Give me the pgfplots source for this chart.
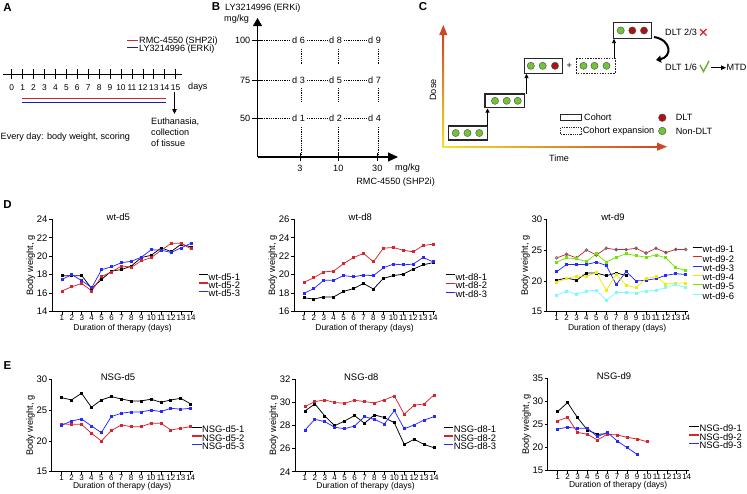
\documentclass[border=0pt]{standalone}
\usepackage{pgfplots}
\pgfplotsset{compat=1.18}
\usepackage{fontspec}
\setmainfont{Liberation Sans}
\usetikzlibrary{arrows.meta}

\definecolor{cred}{RGB}{212,38,48}
\definecolor{cblue}{RGB}{40,40,255}
\definecolor{cyel}{RGB}{238,238,0}
\definecolor{cgreen}{RGB}{110,230,0}
\definecolor{ccyan}{RGB}{125,250,250}
\definecolor{dotgreen}{RGB}{115,195,55}
\definecolor{dotred}{RGB}{170,20,20}
\definecolor{gradyel}{RGB}{245,225,40}
\definecolor{gradred}{RGB}{205,70,40}

\pgfplotsset{
  legend image code/.code={\draw[#1,line width=1.1pt] (0pt,2.5pt) -- (9.5pt,2.5pt);},
  bw/.style={
    scale only axis, width=141pt, height=92.5pt,
    axis lines*=left, axis line style={line width=0.7pt,-},
    tick align=outside, major tick length=3pt,
    tick style={line width=0.7pt,black},
    xmin=0, xmax=14.2, xtick={1,...,14},
    clip=false,
    xlabel={Duration of therapy (days)}, ylabel={Body weight, g},
    xlabel style={anchor=center,inner sep=0pt,font=\fontsize{8.5}{9}\selectfont},
    ylabel style={at={(axis description cs:-0.15,0.5)},anchor=center,inner sep=0pt,font=\fontsize{9.2}{10}\selectfont},
    x tick label style={font=\fontsize{8}{9}\selectfont,inner sep=0.5pt},
    y tick label style={font=\fontsize{9.5}{10}\selectfont,inner sep=1.3pt},
    title style={at={(axis description cs:0.47,0.96)},anchor=center,inner sep=0pt,font=\fontsize{9.5}{10}\selectfont},
    legend style={draw=none,fill=none,font=\fontsize{9.4}{10}\selectfont,
      anchor=north west,inner sep=0pt,row sep=0.3pt,
      nodes={inner sep=0pt,text height=6.5pt,text depth=1.3pt}},
    legend cell align=left,
    every axis plot/.append style={line width=0.75pt,mark size=1pt,mark=square*},
    /pgf/number format/assume math mode=true,
  },
}

\begin{document}
\begin{tikzpicture}
\useasboundingbox (0pt,0pt) rectangle (747pt,-493pt);

\begin{scope}[x=1pt,y=-1pt,font=\fontsize{9.1}{10}\selectfont]
% ---------- panel labels ----------
\node[font=\fontsize{11.5}{12}\selectfont\bfseries] at (7.5,8) {A};
\node[font=\fontsize{11.5}{12}\selectfont\bfseries] at (216,7) {B};
\node[font=\fontsize{11.5}{12}\selectfont\bfseries] at (423,7) {C};
\node[font=\fontsize{11.5}{12}\selectfont\bfseries] at (7.5,205) {D};
\node[font=\fontsize{11.5}{12}\selectfont\bfseries] at (7.5,366) {E};

% ---------- panel A ----------
\draw[cred,line width=1.2pt] (127,40.7) -- (138,40.7);
\draw[cblue!70!black,line width=1.2pt] (127,47.3) -- (138,47.3);
\node[anchor=north west,align=left,inner sep=0pt,
  font={\fontsize{9.1}{8.4}\selectfont\lineskiplimit=-5pt}] at (139,36.4)
  {RMC-4550 (SHP2i)\\LY3214996 (ERKi)};
\draw[line width=0.7pt] (3,74) -- (182,74);
\foreach \d in {0,...,15} {
  \draw[line width=0.7pt] ({11.7+10.93*\d},69) -- ({11.7+10.93*\d},79);
  \node[font=\fontsize{8.4}{9}\selectfont,inner sep=0pt] at ({11.7+10.93*\d},87.3) {\d};
}
\node[anchor=west,inner sep=0pt] at (188,87) {days};
\draw[cred,line width=1.1pt] (21.7,98.3) -- (165.7,98.3);
\draw[cblue!70!black,line width=1.1pt] (21.7,102.7) -- (165.7,102.7);
\draw[line width=0.8pt,-{Triangle[length=5pt,width=4.5pt]}] (174.5,92) -- (174.5,114);
\node[anchor=north west,align=left,inner sep=0pt,font=\fontsize{9.1}{11.3}\selectfont] at (151,117.3) {Euthanasia,\\collection\\of tissue};
\node[anchor=west,inner sep=0pt] at (0.5,136.7) {Every day: body weight, scoring};

% ---------- panel B ----------
\node[anchor=west,inner sep=0pt] at (225,8) {LY3214996 (ERKi)};
\node[anchor=west,inner sep=0pt] at (224,19) {mg/kg};
\draw[line width=1.1pt,-{Triangle[length=8pt,width=9pt]}] (257.5,157) -- (257.5,18);
\draw[line width=1.1pt,-{Triangle[length=10pt,width=9pt]}] (257.5,157) -- (398,157);
\foreach \yy/\lab in {40.7/100,80/75,118.3/50} {
  \draw[line width=0.8pt] (251.5,\yy) -- (262,\yy);
  \node[anchor=east,inner sep=0pt] at (250.5,\yy) {\lab};
}
\foreach \xx/\lab in {300/3,338.3/10,377.3/30} {
  \draw[line width=0.8pt] (\xx,153) -- (\xx,161);
  \node[inner sep=0pt] at (\xx,168.3) {\lab};
}
\node[anchor=west,inner sep=0pt] at (395,168.3) {mg/kg};
\node[anchor=east,inner sep=0pt] at (435,181.7) {RMC-4550 (SHP2i)};
\tikzset{dotl/.style={line width=0.8pt,dash pattern=on 0.8pt off 1pt}}
\foreach \yy/\la/\lb/\lc in {40.7/6/8/9,80/3/5/7,118.3/1/2/4} {
  \draw[dotl] (262,\yy) -- (290,\yy);
  \draw[dotl] (307,\yy) -- (327,\yy);
  \draw[dotl] (344,\yy) -- (366,\yy);
  \node[inner sep=0pt] at (298.5,\yy) {d \la};
  \node[inner sep=0pt] at (335.5,\yy) {d \lb};
  \node[inner sep=0pt] at (374.5,\yy) {d \lc};
}
\foreach \xx in {301.5,338.5,378.3} {
  \draw[dotl] (\xx,49) -- (\xx,64);
  \draw[dotl] (\xx,88) -- (\xx,102);
  \draw[dotl] (\xx,127) -- (\xx,157);
}

% ---------- panel C ----------
\shade[bottom color=gradyel, top color=gradred] (442.6,147.4) rectangle (444.1,33);
\fill[gradred] (443.3,25) -- (439.2,35) -- (447.4,35) -- cycle;
\shade[left color=gradyel, right color=gradred] (442.6,146) rectangle (658,147.5);
\fill[gradred] (667,146.7) -- (657,142.6) -- (657,150.8) -- cycle;
\node[rotate=90,inner sep=0pt] at (433,90) {Dose};
\node[inner sep=0pt] at (559,158.3) {Time};
\tikzset{cbox/.style={draw=black!85,line width=1.3pt},
         gdot/.style={fill=dotgreen,draw=black!70,line width=0.4pt},
         rdot/.style={fill=dotred,draw=black!70,line width=0.4pt}}
% box 1
\draw[cbox] (448.3,126) rectangle (487.7,140);
\foreach \cx in {455.7,467.5,479.3} \filldraw[gdot] (\cx,133) circle[radius=3.6pt];
% box 2
\draw[cbox] (485,94) rectangle (524.3,107.7);
\foreach \cx in {495,506.7,517.7} \filldraw[gdot] (\cx,100.8) circle[radius=3.6pt];
% box 3
\draw[cbox] (524.3,58.3) rectangle (562.3,73.3);
\filldraw[gdot] (530.8,65.8) circle[radius=3.6pt];
\filldraw[gdot] (542.7,65.8) circle[radius=3.6pt];
\filldraw[rdot] (555,65.8) circle[radius=3.6pt];
\node[inner sep=0pt] at (569.3,65.7) {+};
% expansion box
\draw[draw=black!85,line width=0.9pt,dash pattern=on 1.5pt off 1.2pt] (576.7,58.3) rectangle (615,73.3);
\foreach \cx in {583.5,594.5,606.5} \filldraw[gdot] (\cx,65.8) circle[radius=3.6pt];
% box 4
\draw[cbox] (613.3,22.7) rectangle (651.7,38.3);
\filldraw[gdot] (620.7,30.5) circle[radius=3.6pt];
\filldraw[rdot] (632.3,30.5) circle[radius=3.6pt];
\filldraw[rdot] (644,30.5) circle[radius=3.6pt];
% step arrows
\draw[line width=0.6pt,-{Triangle[length=4pt,width=4pt]}] (487.5,126) -- (487.5,108.5);
\draw[line width=0.6pt,-{Triangle[length=4pt,width=4pt]}] (526.5,94) -- (526.5,74);
\draw[line width=0.6pt,-{Triangle[length=4pt,width=4pt]}] (614,58.3) -- (614,39);
% DLT decisions
\node[anchor=west,inner sep=0pt] at (665,32.3) {DLT 2/3};
\draw[cred,line width=1.3pt] (700,29) -- (706.5,35.5) (700,35.5) -- (706.5,29);
\draw[line width=2pt,-{Triangle[length=5pt,width=7pt]}] (654,37) .. controls (672,40) and (672,57) .. (656,60);
\node[anchor=west,inner sep=0pt] at (665,67.7) {DLT 1/6};
\draw[dotgreen!90!black,line width=1.4pt] (700,65) -- (703.5,71.5) -- (709,61);
\draw[line width=0.8pt,-{Triangle[length=5pt,width=4.5pt]}] (711,67.7) -- (726,67.7);
\node[anchor=west,inner sep=0pt] at (726.5,67.7) {MTD};
% legend
\draw[draw=black!85,line width=1pt] (560.7,114.3) rectangle (581.7,120);
\node[anchor=west,inner sep=0pt] at (584,117) {Cohort};
\draw[draw=black!85,line width=0.8pt,dash pattern=on 1.3pt off 1pt] (560.7,127.7) rectangle (581.7,134.3);
\node[anchor=west,inner sep=0pt] at (582.7,131) {Cohort expansion};
\filldraw[rdot] (662.3,117.7) circle[radius=3.8pt];
\node[anchor=west,inner sep=0pt] at (675.7,117.7) {DLT};
\filldraw[gdot] (662.3,131) circle[radius=3.8pt];
\node[anchor=west,inner sep=0pt] at (675.7,131) {Non-DLT};
\end{scope}

% ---------- panel D ----------
\begin{axis}[bw, at={(52pt,-311.7pt)}, anchor=south west,
  ymin=14, ymax=24, ytick={14,16,...,24}, title={wt-d5},
  xlabel style={at={(axis description cs:0.5,-0.18)}},
  legend style={at={(axis description cs:1.035,0.415)}}]
\addplot[black] coordinates {(1,17.9)(2,17.9)(3,17.9)(4,16.5)(5,17.5)(6,18.4)(7,18.55)(8,18.95)(9,19.85)(10,20.1)(11,20.9)(12,20.5)(13,21.3)(14,21.0)};
\addlegendentry{wt-d5-1}
\addplot[cred] coordinates {(1,16.25)(2,16.7)(3,17.05)(4,16.25)(5,17.8)(6,18.3)(7,18.95)(8,18.8)(9,19.5)(10,19.85)(11,20.65)(12,21.4)(13,21.4)(14,20.8)};
\addlegendentry{wt-d5-2}
\addplot[cblue] coordinates {(1,17.5)(2,18.0)(3,17.35)(4,16.6)(5,18.55)(6,18.85)(7,19.3)(8,19.45)(9,19.9)(10,20.7)(11,20.65)(12,20.4)(13,20.9)(14,21.4)};
\addlegendentry{wt-d5-3}
\end{axis}

\begin{axis}[bw, at={(294pt,-311.7pt)}, anchor=south west,
  ymin=16, ymax=26, ytick={16,18,...,26}, title={wt-d8},
  xlabel style={at={(axis description cs:0.5,-0.18)}},
  legend style={at={(axis description cs:1.07,0.415)},row sep=0.8pt}]
\addplot[black] coordinates {(1,17.5)(2,17.37)(3,17.6)(4,17.6)(5,18.2)(6,18.5)(7,19.05)(8,18.45)(9,19.6)(10,19.9)(11,20.06)(12,20.6)(13,21.07)(14,21.3)};
\addlegendentry{wt-d8-1}
\addplot[cred] coordinates {(1,19.17)(2,19.67)(3,20.3)(4,20.4)(5,21.2)(6,21.86)(7,22.3)(8,21.4)(9,22.87)(10,22.94)(11,22.65)(12,22.47)(13,23.16)(14,23.3)};
\addlegendentry{wt-d8-2}
\addplot[cblue] coordinates {(1,17.98)(2,18.5)(3,19.4)(4,19.4)(5,19.9)(6,19.78)(7,19.96)(8,19.9)(9,20.75)(10,21.14)(11,21.07)(12,21.14)(13,21.86)(14,21.4)};
\addlegendentry{wt-d8-3}
\end{axis}

\begin{axis}[bw, at={(546.7pt,-311.7pt)}, anchor=south west,
  ymin=15, ymax=30, ytick={15,20,...,30}, title={wt-d9},
  xlabel style={at={(axis description cs:0.5,-0.18)}},
  legend style={at={(axis description cs:1.03,0.71)},row sep=1.5pt}]
\addplot[black] coordinates {(1,20.1)(2,20.47)(3,20.1)(4,21.27)(5,21.27)(6,20.84)(7,21.27)(8,20.9)};
\addlegendentry{wt-d9-1}
\addplot[cred,mark=o,mark size=1.4pt,mark options={draw=black!60}] coordinates {(1,23.73)(2,24.3)(3,23.73)(4,25.0)(5,24.2)(6,25.29)(7,25.07)(8,25.07)(9,25.29)(10,24.5)(11,25.29)(12,24.6)(13,25.1)(14,25.1)};
\addlegendentry{wt-d9-2}
\addplot[cblue] coordinates {(1,21.48)(2,22.66)(3,22.66)(4,22.66)(5,23.04)(6,22.5)(7,19.4)(8,21.5)(9,19.98)(10,20.1)(11,20.36)(12,20.9)(13,21.16)(14,21.05)};
\addlegendentry{wt-d9-3}
\addplot[cyel] coordinates {(1,19.77)(2,20.36)(3,20.73)(4,20.73)(5,21.3)(6,18.48)(7,21.05)(8,19.3)(9,18.9)(10,20.36)(11,20.73)(12,19.45)(13,19.66)(14,19.66)};
\addlegendentry{wt-d9-4}
\addplot[cgreen] coordinates {(1,23.04)(2,23.73)(3,23.57)(4,23.14)(5,24.38)(6,23.04)(7,23.84)(8,24.38)(9,24.1)(10,23.84)(11,24.2)(12,23.73)(13,22.13)(14,21.7)};
\addlegendentry{wt-d9-5}
\addplot[ccyan] coordinates {(1,17.68)(2,18.37)(3,17.8)(4,18.37)(5,18.48)(6,16.87)(7,18.1)(8,18.1)(9,18.05)(10,18.37)(11,18.48)(12,18.9)(13,19.4)(14,18.9)};
\addlegendentry{wt-d9-6}
\end{axis}

% ---------- panel E ----------
\begin{axis}[bw, at={(51.7pt,-471.7pt)}, anchor=south west,
  ymin=15, ymax=30, ytick={15,20,...,30}, title={NSG-d5},
  xlabel style={at={(axis description cs:0.5,-0.162)}},
  legend style={at={(axis description cs:0.99,0.494)},row sep=0.6pt}]
\addplot[black] coordinates {(1,27.0)(2,26.64)(3,27.73)(4,25.45)(5,26.64)(6,27.18)(7,26.8)(8,26.48)(9,26.48)(10,26.75)(11,26.26)(12,26.64)(13,26.9)(14,25.99)};
\addlegendentry{NSG-d5-1}
\addplot[cred] coordinates {(1,22.74)(2,22.69)(3,22.69)(4,21.23)(5,19.98)(6,21.66)(7,22.58)(8,22.31)(9,22.31)(10,22.85)(11,22.85)(12,21.77)(13,22.04)(14,22.31)};
\addlegendentry{NSG-d5-2}
\addplot[cblue] coordinates {(1,22.53)(2,23.23)(3,23.56)(4,22.42)(5,21.34)(6,23.94)(7,24.48)(8,24.69)(9,24.69)(10,25.0)(11,24.75)(12,25.29)(13,25.13)(14,25.29)};
\addlegendentry{NSG-d5-3}
\end{axis}

\begin{axis}[bw, at={(295pt,-471.7pt)}, anchor=south west,
  ymin=24, ymax=32, ytick={24,26,...,32}, title={NSG-d8},
  xlabel style={at={(axis description cs:0.5,-0.162)}},
  legend style={at={(axis description cs:1.05,0.494)},row sep=0.6pt}]
\addplot[black] coordinates {(1,29.25)(2,29.86)(3,28.82)(4,27.98)(5,28.39)(6,28.85)(7,28.19)(8,28.91)(9,28.68)(10,28.24)(11,26.36)(12,26.8)(13,26.36)(14,26.07)};
\addlegendentry{NSG-d8-1}
\addplot[cred] coordinates {(1,29.63)(2,30.06)(3,30.21)(4,29.98)(5,29.92)(6,30.18)(7,30.06)(8,29.95)(9,30.21)(10,30.55)(11,28.97)(12,29.75)(13,29.86)(14,30.64)};
\addlegendentry{NSG-d8-2}
\addplot[cblue] coordinates {(1,27.6)(2,28.53)(3,28.33)(4,27.84)(5,27.72)(6,27.95)(7,28.76)(8,28.53)(9,28.13)(10,29.28)(11,27.72)(12,28.04)(13,28.47)(14,28.76)};
\addlegendentry{NSG-d8-3}
\end{axis}

\begin{axis}[bw, at={(547.7pt,-470.7pt)}, anchor=south west,
  ymin=15, ymax=35, ytick={15,20,...,35}, title={NSG-d9},
  xlabel style={at={(axis description cs:0.5,-0.162)}},
  legend style={at={(axis description cs:1.0,0.494)},row sep=0.6pt}]
\addplot[black] coordinates {(1,27.78)(2,29.73)(3,26.48)(4,23.8)(5,22.87)(6,23.0)};
\addlegendentry{NSG-d9-1}
\addplot[cred] coordinates {(1,25.76)(2,26.55)(3,23.3)(4,22.87)(5,21.64)(6,22.87)(7,22.73)(8,22.22)(9,21.86)(10,21.28)};
\addlegendentry{NSG-d9-2}
\addplot[cblue] coordinates {(1,24.03)(2,24.39)(3,24.17)(4,24.17)(5,22.36)(6,23.3)(7,21.43)(8,19.98)(9,18.54)};
\addlegendentry{NSG-d9-3}
\end{axis}
\end{tikzpicture}
\end{document}
